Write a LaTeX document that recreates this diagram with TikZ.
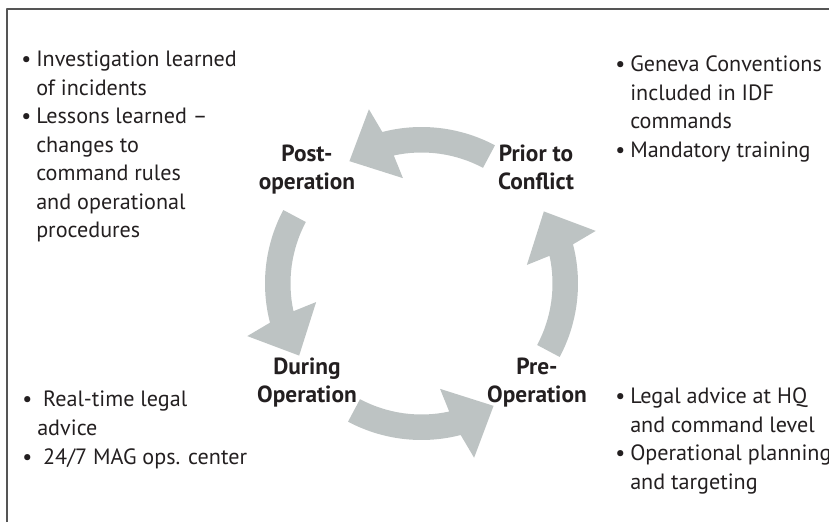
\documentclass[tikz,border=0pt]{standalone}
\usepackage{fontspec}
\setmainfont{PT Sans}
\definecolor{arrowgray}{RGB}{189,195,195}
\definecolor{textgray}{RGB}{35,31,32}
\definecolor{framegray}{RGB}{85,85,85}
\newcommand{\bul}{\makebox[11.25pt][l]{\textbullet}}
\newcommand{\ind}{\hspace*{11.25pt}}
\tikzset{
  stage/.style={font=\fontsize{17.5}{21}\selectfont\bfseries, align=center, inner sep=0pt, anchor=base},
  notes/.style={align=left, inner sep=0pt, anchor=base west}
}
\begin{document}
\begin{tikzpicture}[x=0.75pt, y=0.75pt, font=\fontsize{16.6}{21.4}\selectfont, text=textgray, line join=round]
  \useasboundingbox (0,0) rectangle (829,522);
  % frame, only its top and left edges show
  \draw[framegray, line width=1.1pt] (7,0) -- (7,513) -- (829,513);
  % centre of the cycle
  \coordinate (O) at (421.5,238.5);
  % the four curved arrows
  \foreach \r in {0,90,180,270}
    \fill[arrowgray, shift={(O)}, rotate=\r]
      (62:156.5) arc[start angle=62, end angle=104.5, radius=156.5]
      -- (106.8:182) -- (120.5:142) -- (100:107)
      -- (102.2:131) arc[start angle=102.2, end angle=62, radius=131] -- cycle;
  % stage names (anchor sits on the last line)
  \node[stage] (post) at (307,332) {Post-\\operation};
  \node[stage] (prior) at (536,332) {Prior to\\Conflict};
  \node[stage] (during) at (307,120) {During\\Operation};
  \node[stage] (pre) at (537,120) {Pre-\\Operation};
  % notes in the corners
  \node[notes] (postnotes) at (21,284) {\bul Investigation learned\\
    \ind of incidents\\
    \bul Lessons learned --\\
    \ind changes to\\
    \ind command rules\\
    \ind and operational\\
    \ind procedures};
  \node[notes] (priornotes) at (615,364.5) {\bul Geneva Conventions\\
    \ind included in IDF\\
    \ind commands\\
    \bul Mandatory training};
  \node[notes] (duringnotes) at (22,58) {\bul\ Real-time legal\\
    \ind advice\\
    \bul\ 24/7 MAG ops. center};
  \node[notes] (prenotes) at (615,32.5) {\bul Legal advice at HQ\\
    \ind and command level\\
    \bul Operational planning\\
    \ind and targeting};
\end{tikzpicture}
\end{document}
